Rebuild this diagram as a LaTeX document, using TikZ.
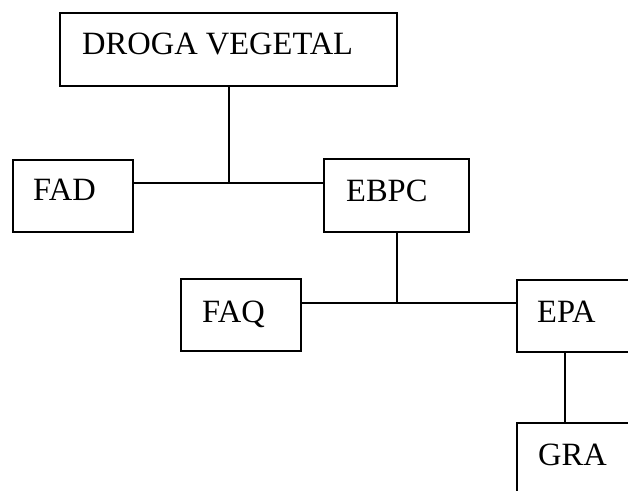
\documentclass[tikz,border=0pt]{standalone}
\usepackage{fontspec}
\setmainfont{Liberation Serif}
\begin{document}
\begin{tikzpicture}[x=1pt,y=1pt,
  box/.style={draw,line width=1.4pt,inner sep=0pt,outer sep=0pt},
  lbl/.style={anchor=base west,inner sep=0pt,font=\fontsize{32.5}{39}\selectfont},
  conn/.style={line width=1.4pt}]
\useasboundingbox (0,0) rectangle (628,-490);
\clip (0,0) rectangle (628,-490);
\fill[white] (0,0) rectangle (628,-490);
% boxes
\node[box,minimum width=337pt,minimum height=73pt] (drog) at (228.5,-49.5) {};
\node[box,minimum width=120pt,minimum height=72pt] (fad) at (73,-196) {};
\node[box,minimum width=145pt,minimum height=73pt] (ebpc) at (396.5,-195.5) {};
\node[box,minimum width=120pt,minimum height=72pt] (faq) at (241,-315) {};
\node[box,minimum width=140pt,minimum height=72pt] (epa) at (587,-316) {};
\node[box,minimum width=140pt,minimum height=73pt] (gra) at (587,-459.5) {};
% labels
\node[lbl] (tdrog) at (82,-54) {DROGA VEGETAL};
\node[lbl] (tfad) at (33,-200) {FAD};
\node[lbl] (tebpc) at (346,-201) {EBPC};
\node[lbl] (tfaq) at (202,-322) {FAQ};
\node[lbl] (tepa) at (537,-322) {EPA};
\node[lbl] (tgra) at (538,-465) {GRA};
% junctions
\coordinate (j1) at (229,-183);
\coordinate (j2) at (397,-303);
\coordinate (j3) at (565,0);
% connectors
\draw[conn] (drog.south -| j1) -- (j1);
\draw[conn] (fad.east |- j1) -- (ebpc.west |- j1);
\draw[conn] (ebpc.south -| j2) -- (j2);
\draw[conn] (faq.east |- j2) -- (epa.west |- j2);
\draw[conn] (epa.south -| j3) -- (gra.north -| j3);
\end{tikzpicture}
\end{document}
